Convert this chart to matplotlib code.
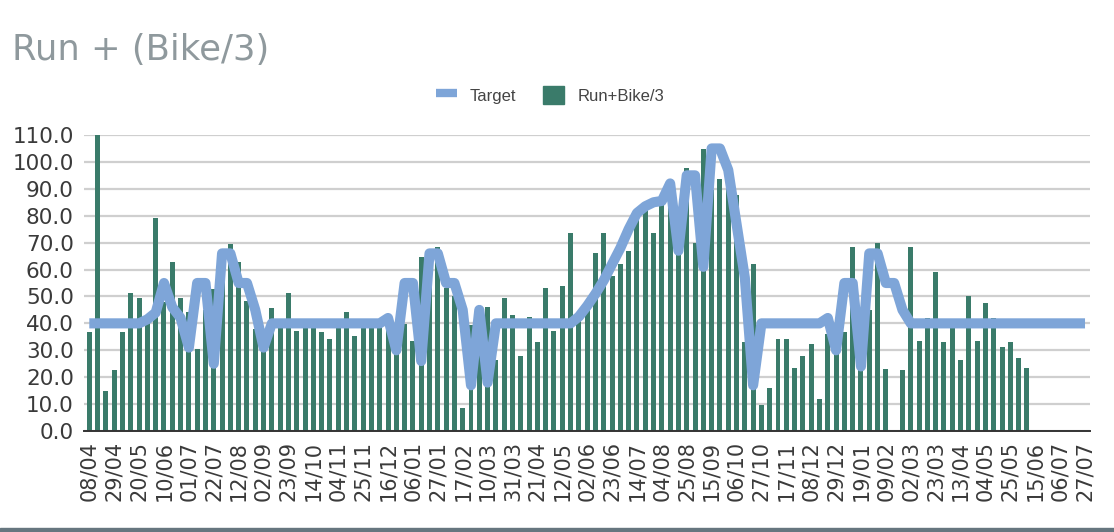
import numpy as np
import matplotlib
matplotlib.use("Agg")
import matplotlib.pyplot as plt
from matplotlib.lines import Line2D
from matplotlib.patches import Patch, Rectangle

# ---------------- data ----------------
tick_labels = ["08/04", "29/04", "20/05", "10/06", "01/07", "22/07", "12/08", "02/09",
               "23/09", "14/10", "04/11", "25/11", "16/12", "06/01", "27/01", "17/02",
               "10/03", "31/03", "21/04", "12/05", "02/06", "23/06", "14/07", "04/08",
               "25/08", "15/09", "06/10", "27/10", "17/11", "08/12", "29/12", "19/01",
               "09/02", "02/03", "23/03", "13/04", "04/05", "25/05", "15/06", "06/07",
               "27/07"]

run_bike = [36.7, 110, 15, 22.6, 36.7, 51.2, 49.5, 40, 79.3, 48,
            62.8, 49.5, 44.1, 30.3, 45, 52.8, 58, 69.6, 62.8, 48.2,
            38, 30, 45.6, 40, 51.3, 37.3, 39, 39, 36.7, 34.2,
            39, 44.1, 35.4, 41.6, 40, 40, 38, 32, 39.8, 33.6,
            64.6, 60, 68.4, 53.1, 50, 8.7, 39.4, 35, 46.2, 26.5,
            49.5, 43.1, 28, 42.3, 33, 53.2, 37.3, 53.8, 73.6, 43,
            46, 66, 73.6, 57.6, 62, 67, 79, 82, 73.7, 84.2,
            88, 80, 97.8, 70, 104.8, 89.5, 93.5, 98.8, 87.6, 33,
            62.2, 9.6, 15.8, 34.2, 34.2, 23.4, 28, 32.3, 11.8, 36,
            28.6, 36.7, 68.4, 43, 45.1, 70, 23.2, None, 22.6, 68.4,
            33.6, 41.9, 59, 33, 39, 26.5, 50.1, 33.6, 47.5, 41.9,
            31.1, 33, 27.1, 23.4, None, None, None, None, None, None,
            None]

target = [40, 40, 40, 40, 40, 40, 40, 41.5, 44, 55,
          46, 42, 31, 55, 55, 25, 66, 66, 55, 55,
          45, 31, 40, 40, 40, 40, 40, 40, 40, 40,
          40, 40, 40, 40, 40, 40, 42, 30, 55, 55,
          26, 66, 66, 55, 55, 45, 17, 45, 18, 40,
          40, 40, 40, 40, 40, 40, 40, 40, 40, 42.5,
          46.5, 51, 56, 62, 68, 75, 81, 83.5, 85, 85.5,
          92, 67, 95, 95, 61, 105, 105, 97, 77, 57,
          17, 40, 40, 40, 40, 40, 40, 40, 40, 42,
          30, 55, 55, 24, 66, 66, 55, 55, 45, 40,
          40, 40, 40, 40, 40, 40, 40, 40, 40, 40,
          40, 40, 40, 40, 40, 40, 40, 40, 40, 40,
          40]

series_names = ["Target", "Run+Bike/3"]

# ---------------- styling ----------------
BAR_COLOR = "#3a7b6a"
LINE_COLOR = "#7ea5d8"
TEXT_COLOR = "#3a3a3a"
GRID_COLOR = "#cfcfcf"

W, H = 1114, 532
fig = plt.figure(figsize=(W / 100, H / 100), dpi=100)
ax = fig.add_axes([83.5 / W, 1 - 431 / H, (1090 - 83.5) / W, (431 - 135) / H])

x = np.arange(len(target))
bars = np.array([np.nan if v is None else v for v in run_bike], dtype=float)

ax.bar(x, bars, width=0.6, color=BAR_COLOR, zorder=2, clip_on=False)
ax.plot(x, target, color=LINE_COLOR, lw=7.3, solid_joinstyle="round",
        solid_capstyle="butt", zorder=3, clip_on=False)

ax.set_xlim(-0.7, 120.6)
ax.set_ylim(0, 110)
ax.set_yticks(np.arange(0, 111, 10))
ax.set_yticklabels([f"{v:.1f}" for v in np.arange(0, 111, 10)])
ax.set_xticks(np.arange(0, len(target), 3))
ax.set_xticklabels(tick_labels, rotation=90)

ax.grid(axis="y", color=GRID_COLOR, lw=1.6, zorder=0)
ax.set_axisbelow(True)
for s in ["left", "right", "top"]:
    ax.spines[s].set_visible(False)
ax.spines["bottom"].set_color("#333333")
ax.spines["bottom"].set_linewidth(1.4)
ax.spines["bottom"].set_zorder(4)
ax.tick_params(axis="y", length=0, labelsize=15.5, labelcolor=TEXT_COLOR, pad=7)
ax.tick_params(axis="x", length=0, labelsize=15, labelcolor=TEXT_COLOR, pad=7)

# title
fig.text(12 / W, 1 - 60 / H, "Run + (Bike/3)", fontsize=25.5, color="#8f999d",
         va="baseline", ha="left")

# legend
handles = [Line2D([0], [0], color=LINE_COLOR, lw=6, solid_capstyle="butt"),
           Patch(facecolor=BAR_COLOR, edgecolor=BAR_COLOR)]
leg = fig.legend(handles, series_names, loc="center", bbox_to_anchor=(550 / W, 1 - 95 / H),
                 ncol=2, frameon=False, handlelength=1.25, handleheight=1.2,
                 columnspacing=1.6, handletextpad=0.8,
                 prop={"family": "Liberation Sans", "size": 12})
for t in leg.get_texts():
    t.set_color("#444444")

# bottom border band
fig.add_artist(Rectangle((0, 0), 1, 4 / H, transform=fig.transFigure,
                         color="#66767f", zorder=0))

fig.savefig("out.png", dpi=100)
